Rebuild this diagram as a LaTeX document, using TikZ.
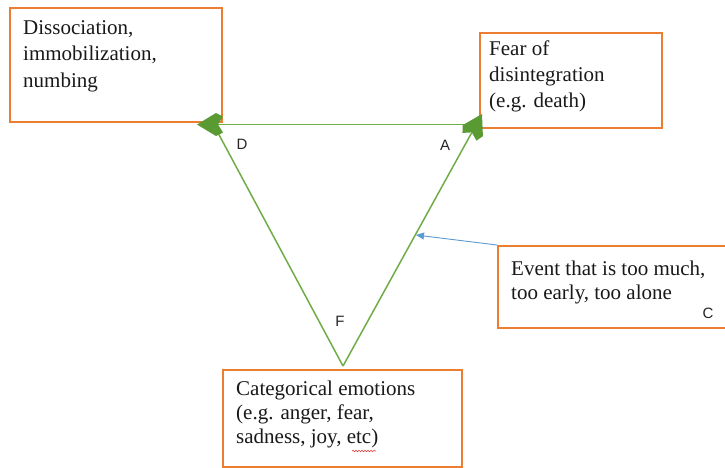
\documentclass[tikz,border=0pt]{standalone}
\usepackage{fontspec}
\setmainfont{Liberation Serif}
\newfontfamily\lblfont{Liberation Sans}
\usetikzlibrary{arrows.meta,calc,decorations.pathmorphing}
\definecolor{boxorange}{HTML}{ED7D31}
\definecolor{triGreen}{HTML}{70AD47}
\definecolor{tipGreen}{HTML}{5A9A32}
\definecolor{evBlue}{HTML}{5B9BD5}
\definecolor{spellRed}{HTML}{E03C3C}
% chunky chevron arrow head: tip at #1, pointing away from #2
\newcommand{\chevhead}[2]{%
  \coordinate (#1c1) at ($(#1)!19pt!(#2)$);
  \coordinate (#1c2) at ($(#1)!26pt!(#2)$);
  \coordinate (#1n) at ($(#1)!21pt!(#2)$);
  \coordinate (#1p1) at ($(#1c1)!11.5pt!90:(#1)$);
  \coordinate (#1p2) at ($(#1c2)!8pt!90:(#1)$);
  \coordinate (#1q1) at ($(#1c1)!11.5pt!-90:(#1)$);
  \coordinate (#1q2) at ($(#1c2)!8pt!-90:(#1)$);
  \fill[tipGreen] (#1) -- (#1p1) -- (#1p2) -- (#1n) -- (#1q2) -- (#1q1) -- cycle;}
\begin{document}
\begin{tikzpicture}[x=1pt,y=-1pt,
  box/.style={draw=boxorange,line width=1.8pt,fill=white,anchor=north west,inner sep=0pt},
  boxtext/.style={anchor=north west,inner sep=0pt,align=left,text=black!90,font=\fontsize{21}{#1}\selectfont},
  vlabel/.style={inner sep=0pt,text=black!85,font=\lblfont\fontsize{15}{18}\selectfont},
  triline/.style={draw=triGreen,line width=1.5pt}
]
\clip (0,0) rectangle (725,467);
\fill[white] (0,0) rectangle (725,467);

% boxes
\node[box,minimum width=212pt,minimum height=114pt] (b1) at (9,7) {};
\node[box,minimum width=182pt,minimum height=95pt] (b2) at (479,32) {};
\node[box,minimum width=240pt,minimum height=82pt] (b3) at (497,245) {};
\node[box,minimum width=239pt,minimum height=97pt] (b4) at (222,369) {};

% box texts
\node[boxtext=26.5] (t1) at (23,20) {Dissociation,\\immobilization,\\numbing};
\node[boxtext=26] (t2) at (489,41) {Fear of\\disintegration\\(e.g. death)};
\node[boxtext=23.5] (t3) at (511,261) {Event that is too much,\\too early, too alone};
\node[boxtext=24] (t4) at (236,381) {Categorical emotions\\(e.g. anger, fear,\\sadness, joy, etc)};

% triangle corners
\coordinate (F) at (343,366);
\coordinate (A) at (482,114);
\coordinate (Astart) at (466,124.5);
\coordinate (D) at (197,124.5);
\coordinate (Dend) at (217,131);

\draw[triline] (F) -- (Dend);
\draw[triline] (Astart) -- ($(D)!20pt!(Astart)$);
\draw[triline] (F) -- ($(A)!20pt!(F)$);
\chevhead{D}{Astart}
\chevhead{A}{F}

% event arrow
\coordinate (evT) at (416,235);
\draw[evBlue,line width=0.9pt,-{Triangle[length=8pt,width=7pt]}] (b3.north west) -- (evT);

% vertex labels
\node[vlabel] (lD) at (242,144) {D};
\node[vlabel] (lA) at (445,145) {A};
\node[vlabel] (lF) at (340,321) {F};
\node[vlabel] (lC) at (708,313) {C};

% spell-check squiggle under "etc"
\coordinate (sq1) at (352,451);
\coordinate (sq2) at (376,451);
\draw[spellRed,line width=0.6pt,decorate,decoration={snake,amplitude=0.7pt,segment length=3pt}] (sq1) -- (sq2);
\end{tikzpicture}
\end{document}
